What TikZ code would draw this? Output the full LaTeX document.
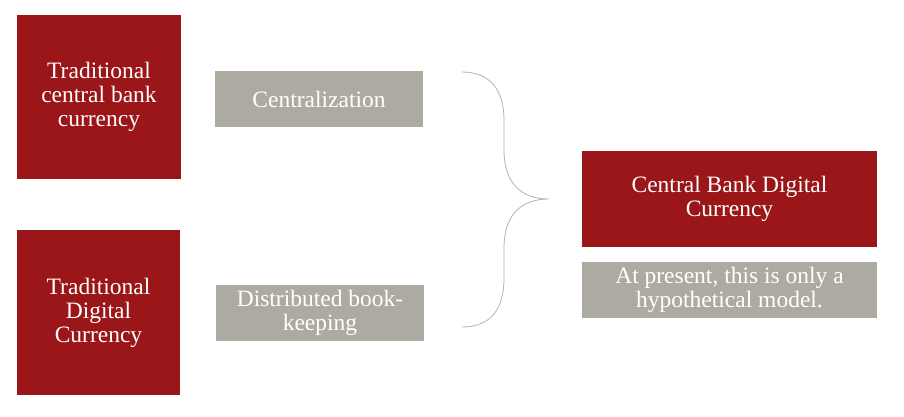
\documentclass[tikz,border=0pt]{standalone}
\usepackage{fontspec}
\setmainfont{Liberation Serif}
\definecolor{cbred}{HTML}{9B1619}
\definecolor{cbgray}{HTML}{ADAAA1}
\definecolor{bracegray}{HTML}{B5B3AC}
\begin{document}
\begin{tikzpicture}[x=1pt,y=-1pt,
  redbox/.style={fill=cbred,text=white,inner sep=0pt,align=center,font=\fontsize{23.5}{24}\selectfont},
  graybox/.style={fill=cbgray,text=white,inner sep=0pt,align=center,font=\fontsize{23.5}{24}\selectfont}]
\useasboundingbox (0,0) rectangle (904,417);
\node[redbox,minimum width=164pt,minimum height=164pt] (tcb) at (99,97) {Traditional\\central bank\\currency};
\node[redbox,minimum width=163pt,minimum height=165pt] (tdc) at (98.5,312.5) {Traditional\\Digital\\Currency};
\node[graybox,minimum width=208pt,minimum height=56pt] (cen) at (319,99) {Centralization};
\node[graybox,minimum width=208pt,minimum height=56pt] (dis) at (320,313) {Distributed book-\\keeping};
\node[redbox,minimum width=295pt,minimum height=96pt] (cbdc) at (729.5,199) {Central Bank Digital\\Currency};
\node[graybox,minimum width=295pt,minimum height=56pt] (hyp) at (729.5,290) {At present, this is only a\\hypothetical model.};
\coordinate (bt) at (462,72);
\coordinate (bm) at (549,199);
\coordinate (bb) at (462,327);
\draw[bracegray,line width=0.8pt] (bt) .. controls (490,72) and (504,90) .. (504,120)
  -- (504,150) .. controls (504,182) and (520,199) .. (bm)
  .. controls (520,199) and (504,216) .. (504,248)
  -- (504,278) .. controls (504,310) and (490,327) .. (bb);
\end{tikzpicture}
\end{document}
